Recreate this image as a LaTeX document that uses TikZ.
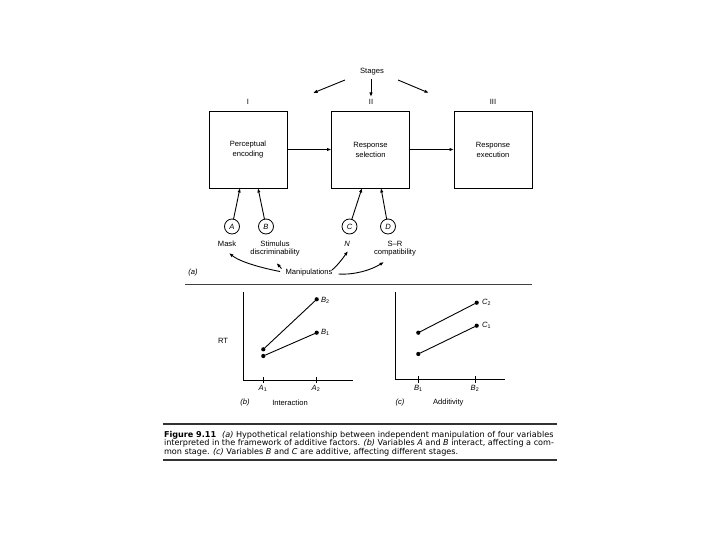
\documentclass[tikz,border=0pt]{standalone}
\usepackage{fontspec}
\setmainfont{Liberation Sans}
\newfontfamily\capfont{DejaVu Sans}
\usetikzlibrary{arrows.meta}
\begin{document}
\begin{tikzpicture}[x=1pt,y=-1pt,
  every node/.style={inner sep=0pt,outer sep=0pt},
  lbl/.style={font=\fontsize{7.6}{8.4}\selectfont, align=center},
  lbltwo/.style={font=\fontsize{7.6}{8.3}\selectfont, align=center, anchor=north},
  ilbl/.style={font=\fontsize{7.6}{8.4}\selectfont\itshape, align=center},
  stagebox/.style={draw, line width=0.9pt, minimum width=78pt, minimum height=77pt, font=\fontsize{7.6}{10}\selectfont, align=center},
  fac/.style={draw, circle, line width=0.8pt, minimum size=15pt, font=\fontsize{7.6}{8.4}\selectfont\itshape},
  arr/.style={line width=0.9pt, -{Latex[length=4.5pt,width=3.4pt]}},
  ln/.style={line width=0.9pt},
  dot/.style={fill, circle, minimum size=4.2pt},
  captext/.style={font=\capfont\fontsize{8.1}{9}\selectfont, anchor=west}
]
\useasboundingbox (0,0) rectangle (720,540);
% stages
\node[lbl] (stages) at (372,72) {Stages};
\coordinate (sl) at (313,93);
\coordinate (sr) at (429,93);
\coordinate (sd) at (371,97);
\draw[arr] (345,80) -- (sl);
\draw[arr] (398,80) -- (sr);
\draw[arr] (371,79) -- (sd);
\node[lbl] (r1) at (248,102) {I};
\node[lbl] (r2) at (371,102) {II};
\node[lbl] (r3) at (493,102) {III};
% boxes
\node[stagebox] (b1) at (248,149.5) {Perceptual\\encoding};
\node[stagebox] (b2) at (370.5,149.5) {Response\\selection};
\node[stagebox] (b3) at (493,149.5) {Response\\execution};
\draw[arr] (b1) -- (b2);
\draw[arr] (b2) -- (b3);
% factors
\node[fac] (A) at (232,226.5) {A};
\node[fac] (B) at (266,226.5) {B};
\node[fac] (C) at (349.5,226.5) {C};
\node[fac] (D) at (388,226.5) {D};
\coordinate (pa1) at (240,188);
\coordinate (pb1) at (258,188);
\coordinate (pc1) at (362,188);
\coordinate (pd1) at (381,188);
\draw[arr] (A) -- (pa1);
\draw[arr] (B) -- (pb1);
\draw[arr] (C) -- (pc1);
\draw[arr] (D) -- (pd1);
\node[lbl] (mask) at (227,244) {Mask};
\node[lbltwo] (stim) at (275,241) {Stimulus\\discriminability};
\node[ilbl] (n) at (347,244) {N};
\node[lbltwo] (sr2) at (395,241) {S--R\\compatibility};
\node[lbl] (manip) at (309,273) {Manipulations};
\node[ilbl] (pa) at (193,273) {(a)};
\coordinate (m1) at (229,253);
\coordinate (m2) at (348,251);
\coordinate (m3) at (384,262);
\coordinate (m4) at (276.5,263);
\draw[arr] (280,271.5) .. controls (262,268) and (240,262) .. (m1);
\draw[arr] (281.5,268.5) -- (m4);
\draw[arr] (332,270) .. controls (338,265) and (343,258) .. (m2);
\draw[arr] (338.5,274) .. controls (355,275) and (371,270) .. (m3);
% separator
\draw[line width=0.9pt, black!75] (185,284) -- (532,284);
% (b) graph
\draw[ln] (243,292) -- (243,380) -- (353,380);
\draw[line width=0.7pt] (263,377) -- (263,383);
\draw[line width=0.7pt] (316,377) -- (316,383);
\node[dot] (b21) at (263.3,349.3) {};
\node[dot] (b22) at (316.7,299.3) {};
\node[dot] (b11) at (263.3,356) {};
\node[dot] (b12) at (316.7,332.7) {};
\draw[ln] (b21) -- (b22);
\draw[ln] (b11) -- (b12);
\node[lbl, anchor=west] (lb2) at (321,300) {\textit{B}\textsubscript{2}};
\node[lbl, anchor=west] (lb1) at (321,332) {\textit{B}\textsubscript{1}};
\node[lbl] (rt) at (223,341) {RT};
\node[lbl] (la1) at (263,388) {\textit{A}\textsubscript{1}};
\node[lbl] (la2) at (316,388) {\textit{A}\textsubscript{2}};
\node[ilbl] (pb) at (245,403) {(b)};
\node[lbl] (inter) at (290,403) {Interaction};
% (c) graph
\draw[ln] (395,292) -- (395,379.3) -- (505,379.3);
\draw[line width=0.7pt] (418.3,376) -- (418.3,383);
\draw[line width=0.7pt] (475,376) -- (475,383);
\node[dot] (c21) at (418.3,332.7) {};
\node[dot] (c22) at (476.7,302.7) {};
\node[dot] (c11) at (418.3,354) {};
\node[dot] (c12) at (476.7,325.7) {};
\draw[ln] (c21) -- (c22);
\draw[ln] (c11) -- (c12);
\node[lbl, anchor=west] (lc2) at (482,302.7) {\textit{C}\textsubscript{2}};
\node[lbl, anchor=west] (lc1) at (482,325.7) {\textit{C}\textsubscript{1}};
\node[lbl] (lb1x) at (418.3,388) {\textit{B}\textsubscript{1}};
\node[lbl] (lb2x) at (475,388) {\textit{B}\textsubscript{2}};
\node[ilbl] (pc) at (400,403) {(c)};
\node[lbl] (addi) at (448.3,403) {Additivity};
% caption
\draw[line width=1.1pt, black!80] (163,424) -- (557,424);
\node[captext] (c1) at (164,435) {\textbf{Figure 9.11}\hspace{6pt}\textit{(a)} Hypothetical relationship between independent manipulation of four variables};
\node[captext] (c2) at (164,443.5) {interpreted in the framework of additive factors. \textit{(b)} Variables \textit{A} and \textit{B} interact, affecting a com-};
\node[captext] (c3) at (164,452) {mon stage. \textit{(c)} Variables \textit{B} and \textit{C} are additive, affecting different stages.};
\draw[line width=1.1pt, black!80] (163,460) -- (557,460);
\end{tikzpicture}
\end{document}
